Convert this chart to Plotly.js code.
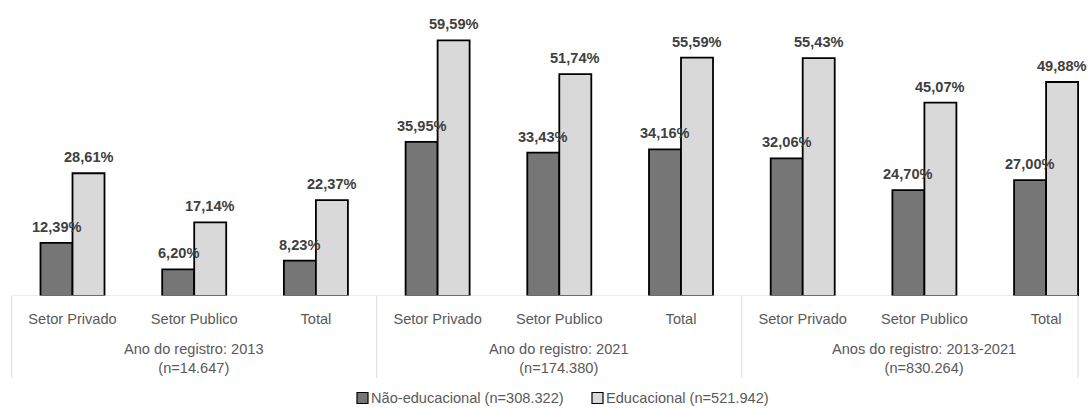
<!DOCTYPE html>
<html>
<head>
<meta charset="utf-8">
<script src="https://cdn.plot.ly/plotly-3.0.1.min.js"></script>
<style>
  html, body { margin: 0; padding: 0; background: #ffffff; }
  #chart { width: 1092px; height: 410px; }
</style>
</head>
<body>
<div id="chart"></div>
<script>
// Categories along the x axis (three sectors inside each registration period)
const categories = [
  'Setor Privado', 'Setor Publico', 'Total',
  'Setor Privado', 'Setor Publico', 'Total',
  'Setor Privado', 'Setor Publico', 'Total'
];

// Period labels shown under each block of three categories
const groupLabels = [
  'Ano do registro: 2013<br>(n=14.647)',
  'Ano do registro: 2021<br>(n=174.380)',
  'Anos do registro: 2013-2021<br>(n=830.264)'
];

const seriesNames = ['Não-educacional (n=308.322)', 'Educacional (n=521.942)'];

// Percentages per category
const naoEducacional = [12.39, 6.20, 8.23, 35.95, 33.43, 34.16, 32.06, 24.70, 27.00];
const educacional    = [28.61, 17.14, 22.37, 59.59, 51.74, 55.59, 55.43, 45.07, 49.88];

// ---- drawing ----
const FONT = 'Liberation Sans, Arial, sans-serif';
const FS = 14.6;
const W = 1092, H = 410, PLOT_H = 296;
const BW = 0.263;                 // width of one bar, in category units
const idx = categories.map((_, i) => i);
const fmt = v => v.toFixed(2).replace('.', ',') + '%';
const py = p => (PLOT_H - p) / PLOT_H;   // pixel row -> paper y
const px = p => p / W;                   // pixel column -> paper x

const seriesDefs = [
  { name: seriesNames[0], values: naoEducacional, color: '#767676', offset: -BW, legendX: 357 },
  { name: seriesNames[1], values: educacional,    color: '#d9d9d9', offset: 0,   legendX: 592 }
];

const traces = seriesDefs.map(s => ({
  type: 'bar',
  name: s.name,
  x: idx,
  y: s.values,
  width: BW,
  offset: s.offset,
  marker: { color: s.color, line: { color: '#000000', width: 1.8 } },
  hoverinfo: 'skip',
  showlegend: false
}));

// Value labels above each bar
const annotations = [];
seriesDefs.forEach(s => {
  s.values.forEach((v, i) => {
    annotations.push({
      x: i + s.offset + BW / 2, y: v, xref: 'x', yref: 'y',
      text: fmt(v), showarrow: false,
      yanchor: 'middle', yshift: 16,
      font: { family: FONT, size: FS, color: '#404040', weight: 'bold' }
    });
  });
});

// Period labels under the category ticks
groupLabels.forEach((g, k) => {
  annotations.push({
    x: k * 3 + 1, xref: 'x', y: py(358), yref: 'paper',
    text: g, showarrow: false, yanchor: 'middle', xanchor: 'center',
    font: { family: FONT, size: FS, color: '#595959' }
  });
});

// Baseline and the vertical dividers between periods
const lineStyle = { color: '#d9d9d9', width: 1 };
const shapes = [{
  type: 'line', xref: 'x', yref: 'y',
  x0: -0.5, x1: categories.length - 1 + BW, y0: 0, y1: 0,
  line: lineStyle
}];
const dividers = groupLabels.map((_, k) => k * 3 - 0.5).concat([categories.length - 1 + BW]);
dividers.forEach(x => {
  shapes.push({
    type: 'line', xref: 'x', yref: 'paper',
    x0: x, x1: x, y0: 0, y1: py(378),
    line: lineStyle
  });
});

// Legend row: swatch plus caption for each series
const LEG_Y = 398, SW = 11;
seriesDefs.forEach(s => {
  shapes.push({
    type: 'rect', xref: 'paper', yref: 'paper',
    x0: px(s.legendX), x1: px(s.legendX + SW),
    y0: py(LEG_Y + SW / 2), y1: py(LEG_Y - SW / 2),
    fillcolor: s.color, line: { color: '#000000', width: 1.2 }
  });
  annotations.push({
    x: px(s.legendX + SW + 1), xref: 'paper', y: py(LEG_Y), yref: 'paper',
    text: s.name, showarrow: false, xanchor: 'left', yanchor: 'middle',
    font: { family: FONT, size: FS, color: '#595959' }
  });
});

const layout = {
  width: W, height: H,
  margin: { l: 0, r: 0, t: 0, b: H - PLOT_H },
  paper_bgcolor: '#ffffff', plot_bgcolor: '#ffffff',
  barmode: 'overlay',
  showlegend: false,
  font: { family: FONT, size: FS, color: '#595959' },
  xaxis: {
    range: [-72.5 / 121.7, (W - 72.5) / 121.7],
    tickvals: idx, ticktext: categories,
    showgrid: false, zeroline: false, showline: false, ticks: '',
    ticklabelstandoff: 12,
    tickfont: { family: FONT, size: FS, color: '#595959' },
    fixedrange: true
  },
  yaxis: { range: [0, 69], visible: false, fixedrange: true },
  annotations: annotations,
  shapes: shapes
};

Plotly.newPlot('chart', traces, layout, { displayModeBar: false, staticPlot: true });
</script>
</body>
</html>
